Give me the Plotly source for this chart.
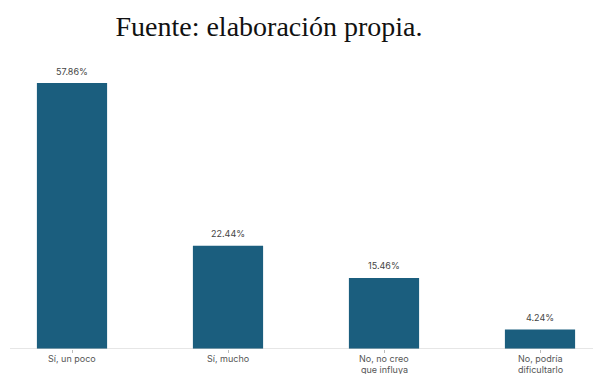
import plotly.graph_objects as go

categories = ["Sí, un poco", "Sí, mucho", "No, no creo<br>que influya", "No, podría<br>dificultarlo"]
values = [57.86, 22.44, 15.46, 4.24]
labels = ["57.86%", "22.44%", "15.46%", "4.24%"]

W, H = 593, 374
bar_color = "#1b5e7e"
label_font = dict(family="Inter, Roboto, sans-serif", size=9, color="#444444")
tick_font = dict(family="Inter, Roboto, sans-serif", size=9, color="#555555")

fig = go.Figure(
    go.Bar(
        x=list(range(len(categories))),
        y=values,
        width=0.45,
        marker=dict(color=bar_color, line=dict(width=0)),
        hoverinfo="skip",
    )
)

# value labels floating above each bar
for i, (v, t) in enumerate(zip(values, labels)):
    fig.add_annotation(
        x=i, y=v, xref="x", yref="y",
        text=t, showarrow=False,
        yanchor="middle", yshift=12,
        font=label_font,
    )

# category labels under the axis, one annotation per line for tight spacing
for i, cat in enumerate(categories):
    for j, line in enumerate(cat.split("<br>")):
        fig.add_annotation(
            x=i, y=0, xref="x", yref="paper",
            text=line, showarrow=False,
            yanchor="middle", yshift=-9.5 - 10.5 * j,
            font=tick_font,
        )

fig.update_layout(
    width=W,
    height=H,
    margin=dict(l=0, r=0, t=60, b=25, autoexpand=False),
    paper_bgcolor="white",
    plot_bgcolor="white",
    showlegend=False,
    title=dict(
        text="Fuente: elaboración propia.",
        font=dict(family="Liberation Serif, Times New Roman, serif", size=28, color="#111111"),
        x=269 / W,
        xanchor="center",
        y=1 - 26 / H,
        yanchor="middle",
        yref="container",
    ),
    xaxis=dict(
        range=[-72 / 156, (W - 72) / 156],
        tickmode="array",
        tickvals=list(range(len(categories))),
        showticklabels=False,
        ticks="outside",
        ticklen=3,
        tickcolor="#bbbbbb",
        showgrid=False,
        zeroline=False,
        showline=False,
        automargin=False,
    ),
    yaxis=dict(
        range=[0, 289 / (266 / 57.86)],
        visible=False,
        showgrid=False,
        zeroline=False,
        automargin=False,
    ),
    shapes=[
        dict(
            type="line",
            xref="paper",
            yref="y",
            x0=10 / W,
            x1=1,
            y0=0,
            y1=0,
            line=dict(color="#cccccc", width=1),
        )
    ],
)

fig.write_html("out.html")
